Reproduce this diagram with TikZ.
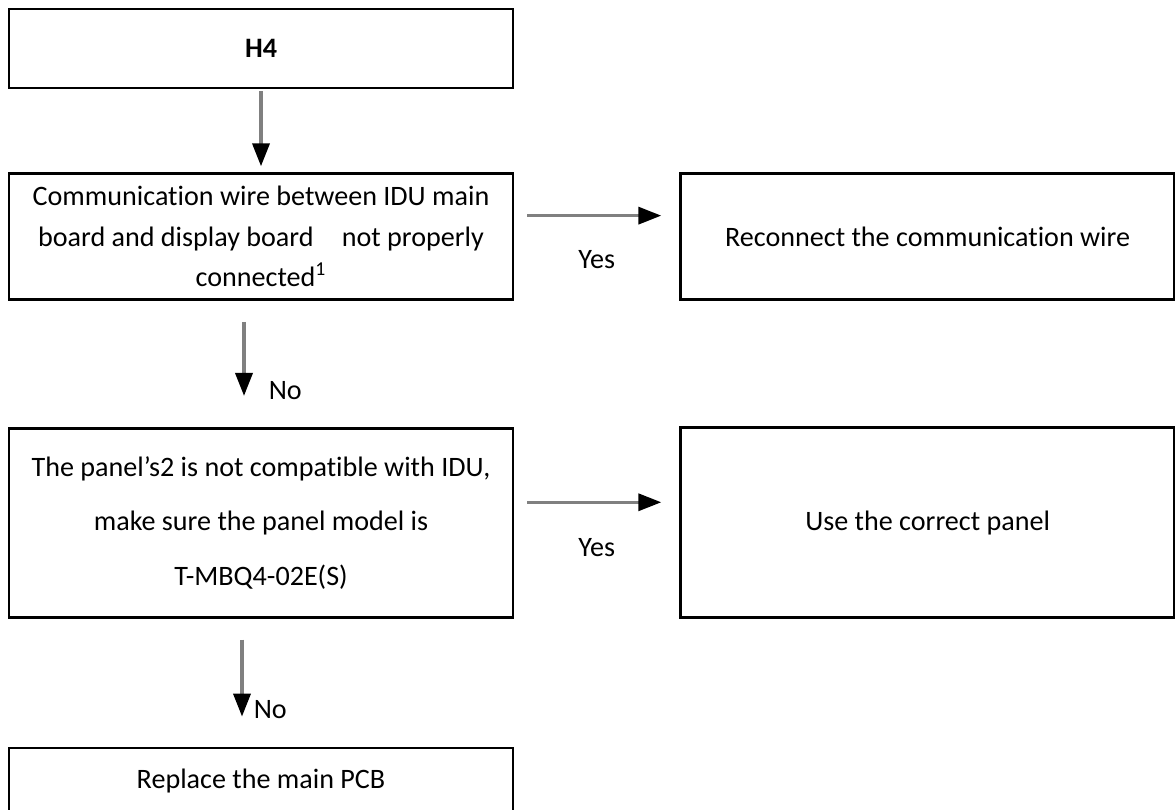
\documentclass[tikz,border=0pt]{standalone}
\usepackage{fontspec}
\setmainfont{Carlito}[Ligatures={TeX,NoCommon}]
\usetikzlibrary{arrows.meta,positioning}
\tikzstyle{box} = [rectangle, minimum width=10.08cm, inner sep=0pt, align=center, draw=black, line width=1.5pt, font=\fontsize{16}{23}\selectfont]
\tikzstyle{result} = [box, minimum width=9.88cm]
\tikzstyle{arrow} = [line width=2pt, draw=gray, -{Triangle[length=0.46cm,width=0.34cm,color=black]}]
\tikzstyle{answer} = [inner sep=0pt, font=\fontsize{16}{19}\selectfont]

\begin{document}
\begin{tikzpicture}[node distance=1cm]
\useasboundingbox (0,0) rectangle (23.5,-16.2);

% Coluna da esquerda: verificacoes
\node (h4) [box, minimum height=1.58cm] at (5.22,-0.97) {\textbf{H4}};
\node (wire) [box, minimum height=2.52cm, below=1.66cm of h4] {Communication wire between IDU main\\board and display board\quad not properly\\connected\textsuperscript{1}};
\node (panel) [box, minimum height=3.78cm, below=2.52cm of wire, font=\fontsize{16}{31}\selectfont] {The panel’s2 is not compatible with IDU,\\make sure the panel model is\\T-MBQ4-02E(S)};
\node (pcb) [box, minimum height=1.32cm, below=2.56cm of panel] {Replace the main PCB};

% Coluna da direita: solucoes
\node (reconnect) [result, minimum height=2.52cm, right=3.3cm of wire] {Reconnect the communication wire};
\node (usepanel) [result, minimum height=3.8cm, right=3.3cm of panel] {Use the correct panel};

% Conexoes verticais (No)
\draw [arrow, shorten <=0.04cm, shorten >=0.12cm] (h4.south) -- (wire.north);
\draw [arrow, shorten <=0.42cm, shorten >=0.62cm] ([xshift=-0.34cm]wire.south) -- ([xshift=-0.34cm]panel.north) node[answer, pos=0.71, right=0.46cm] {No};
\draw [arrow, shorten <=0.42cm, shorten >=0.6cm] ([xshift=-0.38cm]panel.south) -- ([xshift=-0.38cm]pcb.north) node[answer, pos=0.71, right=0.2cm] {No};

% Conexoes horizontais (Yes)
\draw [arrow, shorten <=0.26cm, shorten >=0.36cm] ([yshift=0.42cm]wire.east) -- ([yshift=0.42cm]reconnect.west) node[answer, midway, yshift=-0.88cm] {Yes};
\draw [arrow, shorten <=0.26cm, shorten >=0.36cm] ([yshift=0.41cm]panel.east) -- ([yshift=0.41cm]usepanel.west) node[answer, midway, yshift=-0.9cm] {Yes};

\end{tikzpicture}
\end{document}
